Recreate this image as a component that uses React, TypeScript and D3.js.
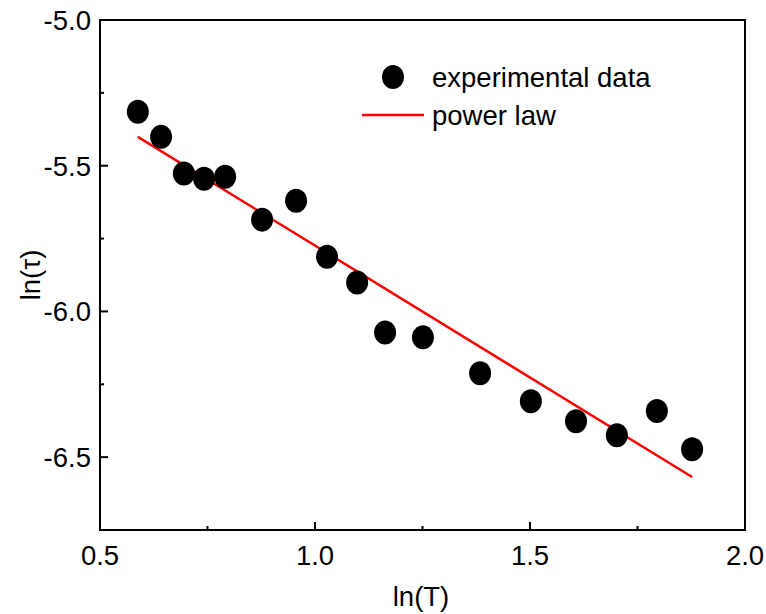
import React from "react";
import * as d3 from "d3";

const lnT = [0.588, 0.642, 0.695, 0.742, 0.791, 0.877, 0.956, 1.028, 1.098, 1.163, 1.251, 1.384, 1.502, 1.607, 1.702, 1.795, 1.877];
const lnTau = [-5.315, -5.401, -5.527, -5.545, -5.538, -5.685, -5.62, -5.812, -5.901, -6.072, -6.089, -6.212, -6.308, -6.377, -6.425, -6.342, -6.473];
const fitX = [0.588, 1.877];
const fitY = [-5.401, -6.568];
const xTicks = [0.5, 1.0, 1.5, 2.0];
const yTicks = [-5.0, -5.5, -6.0, -6.5];
const xMinor = [0.75, 1.25, 1.75];
const yMinor = [-5.25, -5.75, -6.25];

const W = 766, H = 614;
const L = 100, R = 745, T = 20, B = 530;
const FONT = "'Liberation Sans', Arial, sans-serif";
const FS = 27.5;

export default function App() {
  const x = d3.scaleLinear().domain([0.5, 2.0]).range([L, R]);
  const y = d3.scaleLinear().domain([-5.0, -6.75]).range([T, B]);
  const line = d3.line<number>().x((d) => x(fitX[d])).y((d) => y(fitY[d]));
  return (
    <svg width={W} height={H} style={{ position: "absolute", left: 0, top: 0, background: "#fff" }}>
      <rect x={L} y={T} width={R - L} height={B - T} fill="none" stroke="#000" strokeWidth={2} />
      {xTicks.map((t) => (
        <g key={"xt" + t}>
          <line x1={x(t)} x2={x(t)} y1={B} y2={B - 8} stroke="#000" strokeWidth={2} />
          <text x={x(t)} y={B + 35} textAnchor="middle" fontFamily={FONT} fontSize={FS}>{t.toFixed(1)}</text>
        </g>
      ))}
      {xMinor.map((t) => (
        <line key={"xm" + t} x1={x(t)} x2={x(t)} y1={B} y2={B - 4} stroke="#000" strokeWidth={2} />
      ))}
      {yTicks.map((t) => (
        <g key={"yt" + t}>
          <line x1={L} x2={L + 8} y1={y(t)} y2={y(t)} stroke="#000" strokeWidth={2} />
          <text x={L - 9} y={y(t) + 10} textAnchor="end" fontFamily={FONT} fontSize={FS}>{t.toFixed(1)}</text>
        </g>
      ))}
      {yMinor.map((t) => (
        <line key={"ym" + t} x1={L} x2={L + 4} y1={y(t)} y2={y(t)} stroke="#000" strokeWidth={2} />
      ))}
      <text x={421} y={606} textAnchor="middle" fontFamily={FONT} fontSize={FS}>ln(T)</text>
      <text transform={`translate(40,${275}) rotate(-90)`} textAnchor="middle" fontFamily={FONT} fontSize={FS}>ln(τ)</text>
      <path d={line([0, 1]) || ""} stroke="#ff0000" strokeWidth={2.5} fill="none" />
      {lnT.map((v, i) => (
        <ellipse key={"p" + i} cx={x(v)} cy={y(lnTau[i])} rx={11} ry={12} fill="#000" />
      ))}
      <ellipse cx={393} cy={77} rx={11} ry={12} fill="#000" />
      <text x={432} y={87} fontFamily={FONT} fontSize={FS}>experimental data</text>
      <line x1={362} x2={424} y1={115} y2={115} stroke="#ff0000" strokeWidth={2.5} />
      <text x={432} y={125} fontFamily={FONT} fontSize={FS}>power law</text>
    </svg>
  );
}
